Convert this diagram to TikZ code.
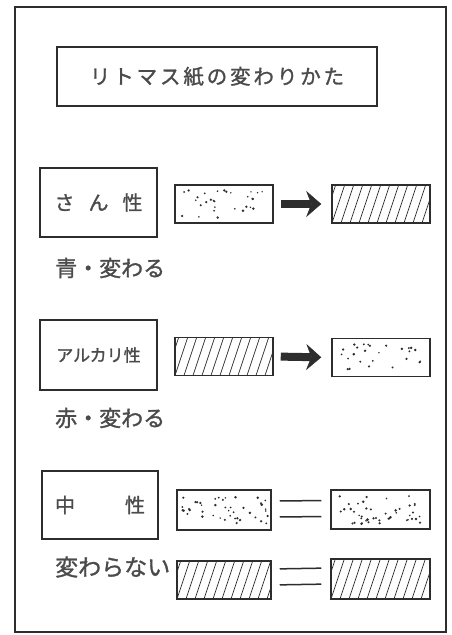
\documentclass[tikz,border=0pt]{standalone}
\usepackage{fontspec}
\newfontface\jp{Noto Sans CJK JP}[FakeBold=1.3]
\usetikzlibrary{arrows.meta,calc}
\definecolor{ink}{RGB}{45,45,45}
\definecolor{txt}{RGB}{75,75,75}
\begin{document}
\begin{tikzpicture}[x=1pt,y=-1pt,
  outerframe/.style={draw=ink,line width=1.4pt},
  titlebox/.style={draw=ink,line width=1.5pt,inner sep=0pt,minimum width=320pt,minimum height=59pt,
    text=txt,font=\jp\fontsize{20.5}{20}\selectfont\addfontfeatures{LetterSpace=14}},
  lbox/.style={draw=ink,line width=1.4pt,inner sep=0pt,minimum width=117pt,minimum height=69pt,
    text=txt,font=\jp\fontsize{20}{20}\selectfont},
  sublabel/.style={anchor=west,inner sep=0pt,text=txt,font=\jp\fontsize{22}{22}\selectfont},
  strip/.style={draw=ink,line width=1.5pt,inner sep=0pt,minimum width=98pt,minimum height=38pt},
  hatched/.style={strip,path picture={
     \foreach \k in {-2,...,12}{\draw[ink,line width=0.7pt]
       ([xshift=\k*9pt]path picture bounding box.south west) -- ++(14pt,42pt);}}},
  stipple/.style={strip,path picture={
     \foreach \i in {1,...,#1}{\fill[ink]
       ($(path picture bounding box.south west)+(5pt+rnd*86pt,5pt+rnd*28pt)$) circle (0.8pt+0.6pt*rnd);}}},
  bigarrow/.style={draw=ink,line width=8pt,
     -{Stealth[length=15pt,width=26pt,inset=5pt,line width=0.5pt]},
     shorten <=7pt,shorten >=10pt},
  eqline/.style={draw=ink,line width=1.5pt,shorten <=8pt,shorten >=9pt}
]
\pgfmathsetseed{12}
\useasboundingbox (0,0) rectangle (451,635);
\fill[white] (0,0) rectangle (451,635);
\draw[outerframe] (15,7) rectangle (446,632);

\node[titlebox] (title) at (217,76.5) {リトマス紙の変わりかた};

% row 1
\node[lbox] (L1) at (98.5,202.5) {さ\hspace{14pt}ん\hspace{14pt}性};
\node[stipple=30] (d1) at (224,204) {};
\node[hatched] (h1) at (381,204) {};
\draw[bigarrow] (d1.east) -- (h1.west);
\node[sublabel] (t1) at (55,268) {青・変わる};

% row 2
\node[lbox,minimum height=70pt,font=\jp\fontsize{17}{17}\selectfont] (L2) at (98.5,355) {アルカリ性};
\node[hatched] (h2) at (224,356.5) {};
\node[stipple=26] (d2) at (381,357.5) {};
\draw[bigarrow] (h2.east) -- (d2.west);
\node[sublabel] (t2) at (55,418) {赤・変わる};

% row 3
\node[lbox,minimum width=116pt,minimum height=68pt] (L3) at (100,505) {中\hspace{50pt}性};
\node[stipple=45,minimum width=94pt,minimum height=40pt] (d3) at (224,510) {};
\node[stipple=45,minimum width=99pt,minimum height=39pt] (d4) at (380.5,509.5) {};
\draw[eqline] ([yshift=9pt]d3.east) -- ([yshift=9pt]d4.west);
\draw[eqline] ([yshift=-7pt]d3.east) -- ([yshift=-7pt]d4.west);
\node[sublabel,font=\jp\fontsize{23}{23}\selectfont] (t3) at (55,567) {変わらない};
\node[hatched,minimum width=94pt] (h3) at (224,580) {};
\node[hatched,minimum width=99pt,minimum height=40pt] (h4) at (380.5,579) {};
\draw[eqline] ([yshift=11pt]h3.east) -- ([yshift=11pt]h4.west);
\draw[eqline] ([yshift=-5pt]h3.east) -- ([yshift=-5pt]h4.west);
\end{tikzpicture}
\end{document}
